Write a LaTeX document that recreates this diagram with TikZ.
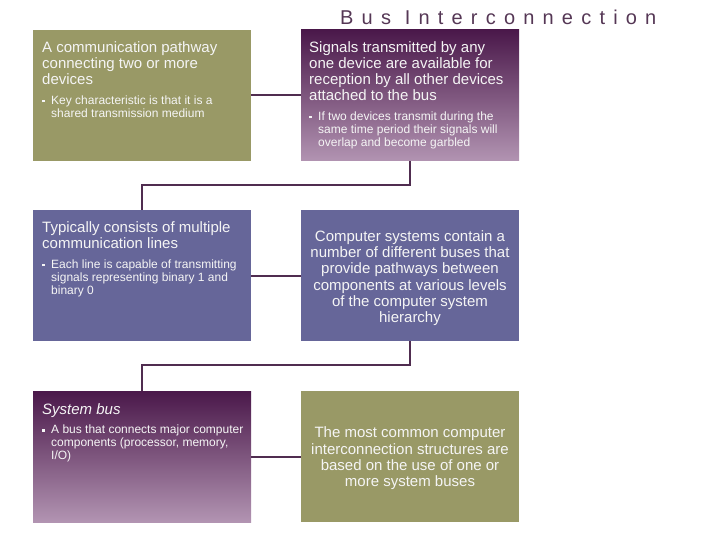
\documentclass[tikz,border=0pt]{standalone}
\usepackage{fontspec}
\setmainfont{Liberation Sans}
\definecolor{boxolive}{RGB}{153,153,102}
\definecolor{boxslate}{RGB}{102,102,153}
\definecolor{purptop}{RGB}{74,24,74}
\definecolor{purpbot}{RGB}{178,148,178}
\definecolor{conncol}{RGB}{80,45,80}
\definecolor{titlecol}{RGB}{85,55,85}
\definecolor{txtcol}{RGB}{245,245,245}
\newcommand{\natsp}{\spaceskip=\fontdimen2\font\relax\xspaceskip=\fontdimen2\font\relax}
\newcommand{\bulline}[2]{{\fontsize{12}{13}\selectfont\natsp\leftskip=9pt\relax\rightskip=0pt plus 1fil\relax
  \noindent\hspace*{-9pt}\makebox[9pt][l]{\raisebox{2pt}{\rule{2.3pt}{2.3pt}}}#1\par
  \noindent #2\par}}
\begin{document}
\begin{tikzpicture}[x=1pt,y=-1pt,
  card/.style={minimum width=218pt,minimum height=131pt,inner sep=0pt,outer sep=0pt,anchor=north west,draw=none},
  purp/.style={top color=purptop,bottom color=purpbot},
  txt/.style={anchor=base west,inner sep=0pt,text width=210pt,align=left,text=txtcol,font=\fontsize{15}{16}\selectfont},
  txtc/.style={anchor=center,inner sep=0pt,text width=215pt,align=center,text=txtcol,font=\fontsize{15}{16.3}\selectfont},
  conn/.style={draw=conncol,line width=2pt}]
\useasboundingbox (0,0) rectangle (720,540);
\node[anchor=base west,inner sep=0pt,text=titlecol,font=\fontsize{20}{24}\selectfont\addfontfeature{LetterSpace=41}] (title) at (340,25) {Bus Interconnection};
\node[card,fill=boxolive] (b1) at (33,30) {};
\node[card,purp] (b2) at (301,30) {};
\node[card,fill=boxslate] (b3) at (33,210) {};
\node[card,fill=boxslate] (b4) at (301,210) {};
\node[card,purp] (b5) at (33,391) {};
\node[card,fill=boxolive] (b6) at (301,391) {};
\draw[conn] (b1.east) -- (b2.west);
\draw[conn] (b2.south) -- ++(0,24) -| (b3.north);
\draw[conn] (b3.east) -- (b4.west);
\draw[conn] (b4.south) -- ++(0,24) -| (b5.north);
\draw[conn] (b5.east) -- (b6.west);
\node[txt] (t1) at ([shift={(9,23)}]b1.north west) {\natsp A communication pathway\\connecting two or more\\devices\par\vspace{6.5pt}\bulline{Key characteristic is that it is a}{shared transmission medium}};
\node[txt] (t2) at ([shift={(8,23)}]b2.north west) {\natsp Signals transmitted by any\\one device are available for\\reception by all other devices\\attached to the bus\par\vspace{6.5pt}\bulline{If two devices transmit during the}{same time period their signals will\\overlap and become garbled}};
\node[txt] (t3) at ([shift={(9,23)}]b3.north west) {\natsp Typically consists of multiple\\communication lines\par\vspace{6.5pt}\bulline{Each line is capable of transmitting}{signals representing binary 1 and\\binary 0}};
\node[txtc] (t4) at ([yshift=-2.5]b4.center) {\natsp Computer systems contain a\\number of different buses that\\provide pathways between\\components at various levels\\of the computer system\\hierarchy};
\node[txt] (t5) at ([shift={(9,23)}]b5.north west) {\natsp\textit{System bus}\par\vspace{6.5pt}\bulline{A bus that connects major computer}{components (processor, memory,\\I/O)}};
\node[txtc] (t6) at ([yshift=-2]b6.center) {\natsp The most common computer\\interconnection structures are\\based on the use of one or\\more system buses};
\end{tikzpicture}
\end{document}
